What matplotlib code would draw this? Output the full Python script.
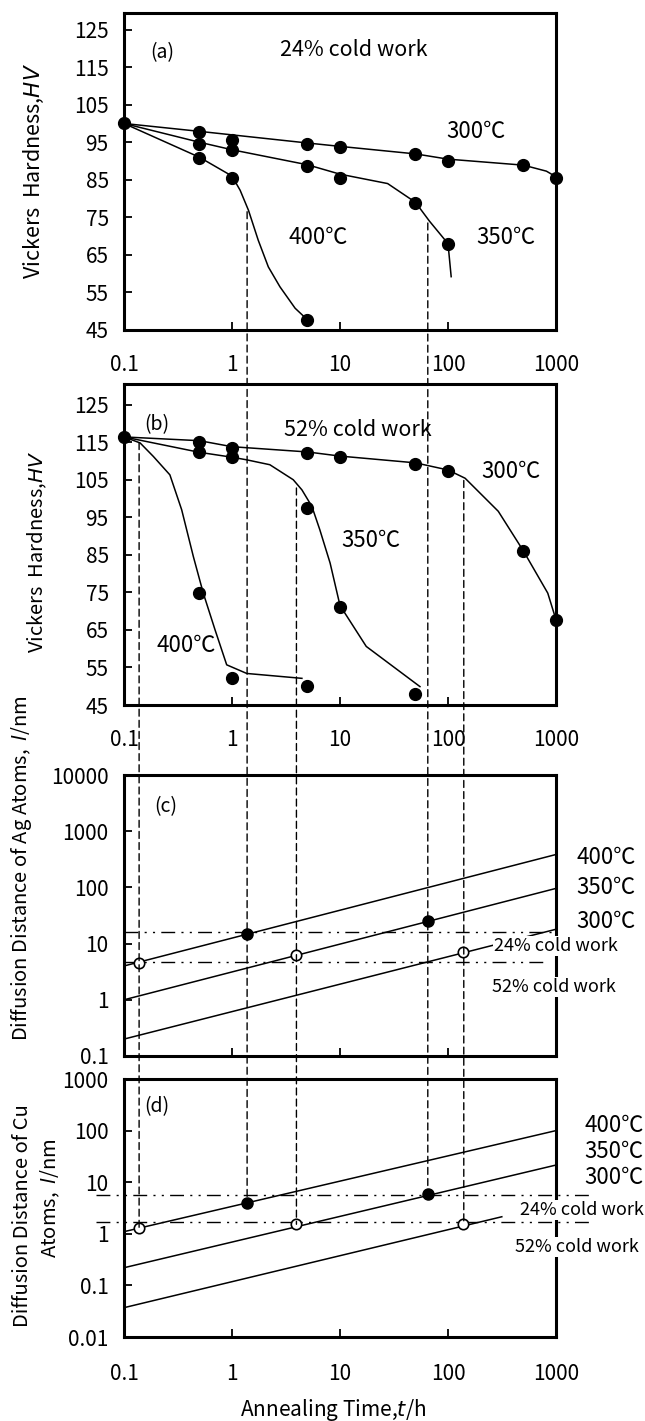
import matplotlib
matplotlib.use('Agg')
import matplotlib.pyplot as plt
from matplotlib.patches import ConnectionPatch
from matplotlib.ticker import NullLocator, FixedLocator, FixedFormatter

plt.rcParams['font.family'] = ['Noto Sans CJK JP', 'DejaVu Sans']
plt.rcParams['mathtext.fontset'] = 'dejavusans'

# ---------------- data ----------------
# (a) 24% cold work : Vickers hardness
a_start_t = [0.1]
a_start_hv = [100]
a300_t = [0.5, 1, 5, 10, 50, 100, 500, 1000]
a300_hv = [97.7, 95.6, 94.6, 93.7, 91.8, 89.9, 89.0, 85.6]
a350_t = [0.5, 1, 5, 10, 50, 100]
a350_hv = [94.6, 92.9, 88.8, 85.5, 78.8, 67.9]
a400_t = [0.5, 1, 5]
a400_hv = [90.9, 85.6, 47.7]
# drawn curves (a)
ca300_t = [0.1, 0.5, 5, 10, 50, 100, 500, 815, 1000]
ca300_hv = [100, 97.9, 94.8, 93.9, 91.9, 90.5, 88.9, 87.3, 85.8]
ca350_t = [0.1, 0.5, 1, 5, 10, 27.6, 50, 67.3, 100, 107]
ca350_hv = [100, 95, 93, 89, 86.5, 84, 79, 74, 68, 59.2]
ca400_t = [0.1, 0.5, 1, 1.19, 1.42, 1.75, 2.17, 2.78, 3.84, 5]
ca400_hv = [100, 91, 86, 82.2, 76.9, 68.9, 61.8, 56.5, 50.8, 47.7]

# (b) 52% cold work : Vickers hardness
b_start_t = [0.1]
b_start_hv = [116.4]
b300_t = [0.5, 1, 5, 10, 50, 100, 500, 1000]
b300_hv = [115.1, 113.4, 112.1, 111.1, 109.2, 107.4, 85.9, 67.7]
b350_t = [0.5, 1, 5, 10, 50]
b350_hv = [112.3, 111.0, 97.4, 71.0, 47.8]
b400_t = [0.49, 0.99, 4.9]
b400_hv = [74.9, 52.1, 50.1]
cb300_t = [0.1, 0.5, 1, 5, 10, 50, 100, 144, 292, 500, 839, 1000]
cb300_hv = [116.4, 115.4, 113.8, 112.4, 111.3, 109.5, 107.6, 105.4, 96.6, 86, 74.8, 67.7]
cb350_t = [0.1, 0.5, 1, 1.37, 2.24, 3.69, 4.44, 5.49, 6.5, 8.1, 10, 17.5, 55]
cb350_hv = [116.4, 112.3, 111, 110.3, 109, 105, 102.3, 97.9, 91.7, 82.8, 71.5, 60.6, 49.9]
cb400_t = [0.1, 0.141, 0.187, 0.266, 0.342, 0.439, 0.542, 0.697, 0.893, 1.37, 4.44]
cb400_hv = [116.4, 114.8, 111.2, 106.3, 97, 84.5, 74.8, 65, 55.7, 53.4, 52.1]

# characteristic times (vertical dashed lines) and their start hardness
cross_t = [1.38, 65, 0.138, 3.95, 140]
cross_panel = ['a', 'a', 'b', 'b', 'b']
cross_hv = [76.5, 73.5, 114.9, 102.8, 104.8]

# (c) Ag diffusion distance (nm)
line_t = [0.1, 1000]
c400_d = [4.0, 385]
c350_d = [1.0, 96]
c300_d = [0.2, 18]
c_cw24 = 16.3
c_cw52 = 4.76
c_cw52_end = 850
c_filled_t = [1.38, 65]
c_filled_d = [14.6, 25.2]
c_open_t = [0.138, 3.95, 137]
c_open_d = [4.57, 6.2, 7.0]

# (d) Cu diffusion distance (nm)
d400_d = [1.1, 100]
d350_d = [0.22, 21.5]
d300_t = [0.1, 315]
d300_d = [0.037, 2.14]
d_cw24 = 5.7
d_cw52 = 1.72
d_cw_span = [0.0546, 2080]
d_filled_t = [1.38, 65]
d_filled_d = [3.95, 5.8]
d_open_t = [0.138, 3.95, 137]
d_open_d = [1.29, 1.53, 1.53]

xticks = [0.1, 1, 10, 100, 1000]
xticklabels = ['0.1', '1', '10', '100', '1000']
hv_ticks = [45, 55, 65, 75, 85, 95, 105, 115, 125]
c_ticks = [0.1, 1, 10, 100, 1000, 10000]
c_ticklabels = ['0.1', '1', '10', '100', '1000', '10000']
d_ticks = [0.01, 0.1, 1, 10, 100, 1000]
d_ticklabels = ['0.01', '0.1', '1', '10', '100', '1000']

# ---------------- figure ----------------
W, H = 645, 1421
fig = plt.figure(figsize=(W / 100, H / 100), dpi=100)
L, R = 124, 556


def add_ax(top, bot):
    return fig.add_axes([L / W, 1 - bot / H, (R - L) / W, (bot - top) / H])


def fx(px):
    return px / W


def fy(py):
    return 1 - py / H


TICK = 15
ax_a = add_ax(12.7, 330)
ax_b = add_ax(384, 705)
ax_c = add_ax(775, 1056)
ax_d = add_ax(1079, 1337)


def style(ax, xlab=True, xpad=18):
    ax.set_xscale('log')
    ax.set_xlim(0.1, 1000)
    ax.xaxis.set_major_locator(FixedLocator(xticks))
    ax.xaxis.set_minor_locator(NullLocator())
    if xlab:
        ax.xaxis.set_major_formatter(FixedFormatter(xticklabels))
    else:
        ax.xaxis.set_major_formatter(FixedFormatter([''] * len(xticks)))
    for s in ax.spines.values():
        s.set_linewidth(2.2)
    ax.tick_params(axis='both', which='both', direction='in', length=5.5,
                   width=1.3, top=False, right=False, labelsize=TICK)
    ax.tick_params(axis='x', pad=xpad)
    ax.tick_params(axis='y', pad=11)


for ax, xp, xl in [(ax_a, 17, True), (ax_b, 17, True), (ax_c, 17, False), (ax_d, 19, True)]:
    style(ax, xl, xp)

for ax in (ax_a, ax_b):
    ax.set_yticks(hv_ticks)
    ax.set_yticklabels([str(v) for v in hv_ticks])
ax_a.set_ylim(45, 129.5)
ax_b.set_ylim(45, 130.5)

for ax, ticks, labs, lim in [(ax_c, c_ticks, c_ticklabels, (0.1, 10000)),
                             (ax_d, d_ticks, d_ticklabels, (0.01, 1000))]:
    ax.set_yscale('log')
    ax.set_ylim(*lim)
    ax.yaxis.set_major_locator(FixedLocator(ticks))
    ax.yaxis.set_minor_locator(NullLocator())
    ax.yaxis.set_major_formatter(FixedFormatter(labs))

LW = 1.1
MS = 8.5
# panel (a)
for t, hv in [(ca300_t, ca300_hv), (ca350_t, ca350_hv), (ca400_t, ca400_hv)]:
    ax_a.plot(t, hv, color='black', lw=LW)
for t, hv in [(a_start_t, a_start_hv), (a300_t, a300_hv), (a350_t, a350_hv), (a400_t, a400_hv)]:
    ax_a.plot(t, hv, 'o', color='black', ms=MS, clip_on=False, zorder=4)
# panel (b)
for t, hv in [(cb300_t, cb300_hv), (cb350_t, cb350_hv), (cb400_t, cb400_hv)]:
    ax_b.plot(t, hv, color='black', lw=LW)
for t, hv in [(b_start_t, b_start_hv), (b300_t, b300_hv), (b350_t, b350_hv), (b400_t, b400_hv)]:
    ax_b.plot(t, hv, 'o', color='black', ms=MS, clip_on=False, zorder=4)

DASHDOT = (0, (10, 4.5, 1.5, 4.5, 1.5, 4.5))
# panel (c)
for d in (c400_d, c350_d, c300_d):
    ax_c.plot(line_t, d, color='black', lw=LW)
ax_c.plot([0.1, 1000], [c_cw24, c_cw24], color='black', lw=1.0, ls=DASHDOT)
ax_c.plot([0.1, c_cw52_end], [c_cw52, c_cw52], color='black', lw=1.0, ls=DASHDOT)
ax_c.plot(c_filled_t, c_filled_d, 'o', color='black', ms=8, zorder=5)
ax_c.plot(c_open_t, c_open_d, 'o', mfc='white', mec='black', mew=1.2, ms=7.5, zorder=5)

# panel (d)
ax_d.plot(line_t, d400_d, color='black', lw=LW)
ax_d.plot(line_t, d350_d, color='black', lw=LW)
ax_d.plot(d300_t, d300_d, color='black', lw=LW)
ax_d.plot(d_cw_span, [d_cw24, d_cw24], color='black', lw=1.0, ls=DASHDOT, clip_on=False)
ax_d.plot(d_cw_span, [d_cw52, d_cw52], color='black', lw=1.0, ls=DASHDOT, clip_on=False)
ax_d.plot(d_filled_t, d_filled_d, 'o', color='black', ms=8, zorder=5)
ax_d.plot(d_open_t, d_open_d, 'o', mfc='white', mec='black', mew=1.2, ms=7.5, zorder=5)

# vertical dashed connecting lines
src = {'a': ax_a, 'b': ax_b}
end_d = d_filled_d + d_open_d
for t, p, hv, dd in zip(cross_t, cross_panel, cross_hv, end_d):
    cp = ConnectionPatch(xyA=(t, hv), coordsA=src[p].transData,
                         xyB=(t, dd), coordsB=ax_d.transData,
                         color='black', lw=1.0, linestyle=(0, (5, 3)), zorder=1)
    fig.add_artist(cp)

# ---------------- texts ----------------
TXT = 15.5
TEMP = 16
# (a)
ax_a.text(0.088, 0.873, '(a)', transform=ax_a.transAxes, fontsize=14, ha='center', va='center')
ax_a.text(0.532, 0.882, '24% cold work', transform=ax_a.transAxes, fontsize=TXT, ha='center', va='center')
ax_a.text(0.815, 0.627, '300℃', transform=ax_a.transAxes, fontsize=TEMP, ha='center', va='center')
ax_a.text(0.449, 0.292, '400℃', transform=ax_a.transAxes, fontsize=TEMP, ha='center', va='center')
ax_a.text(0.884, 0.292, '350℃', transform=ax_a.transAxes, fontsize=TEMP, ha='center', va='center')
# (b)
ax_b.text(0.075, 0.872, '(b)', transform=ax_b.transAxes, fontsize=14, ha='center', va='center')
ax_b.text(0.541, 0.857, '52% cold work', transform=ax_b.transAxes, fontsize=TXT, ha='center', va='center')
ax_b.text(0.896, 0.727, '300℃', transform=ax_b.transAxes, fontsize=TEMP, ha='center', va='center')
ax_b.text(0.572, 0.514, '350℃', transform=ax_b.transAxes, fontsize=TEMP, ha='center', va='center')
ax_b.text(0.143, 0.184, '400℃', transform=ax_b.transAxes, fontsize=TEMP, ha='center', va='center')
# (c)
ax_c.text(0.096, 0.887, '(c)', transform=ax_c.transAxes, fontsize=14, ha='center', va='center')
for s, py in [('400℃', 857), ('350℃', 888), ('300℃', 922)]:
    fig.text(fx(606), fy(py), s, fontsize=TEMP, ha='center', va='center')
box = dict(facecolor='white', edgecolor='none', pad=0.5)
fig.text(fx(556), fy(946), '24% cold work', fontsize=13, ha='center', va='center', bbox=box, zorder=5)
fig.text(fx(554), fy(987), '52% cold work', fontsize=13, ha='center', va='center', bbox=box, zorder=5)
# (d)
ax_d.text(0.077, 0.893, '(d)', transform=ax_d.transAxes, fontsize=14, ha='center', va='center')
for s, py in [('400℃', 1125), ('350℃', 1152), ('300℃', 1178)]:
    fig.text(fx(614), fy(py), s, fontsize=TEMP, ha='center', va='center')
fig.text(fx(582), fy(1210), '24% cold work', fontsize=13, ha='center', va='center', bbox=box, zorder=5)
fig.text(fx(577), fy(1247), '52% cold work', fontsize=13, ha='center', va='center', bbox=box, zorder=5)

# axis labels
fig.text(fx(34), fy(171), 'Vickers  Hardness,$\\mathit{HV}$', rotation=90, fontsize=15.5, ha='center', va='center')
fig.text(fx(37), fy(552), 'Vickers  Hardness,$\\mathit{HV}$', rotation=90, fontsize=14.5, ha='center', va='center')
fig.text(fx(22), fy(868), 'Diffusion Distance of Ag Atoms,  $\\mathit{l}$/nm', rotation=90, fontsize=14.5, ha='center', va='center')
fig.text(fx(23), fy(1216), 'Diffusion Distance of Cu', rotation=90, fontsize=14.5, ha='center', va='center')
fig.text(fx(50), fy(1198), 'Atoms,  $\\mathit{l}$/nm', rotation=90, fontsize=14.5, ha='center', va='center')
fig.text(fx(333), fy(1410), 'Annealing Time,$\\mathit{t}$/h', fontsize=15, ha='center', va='center')

fig.savefig('out.png', dpi=100, facecolor='white')
